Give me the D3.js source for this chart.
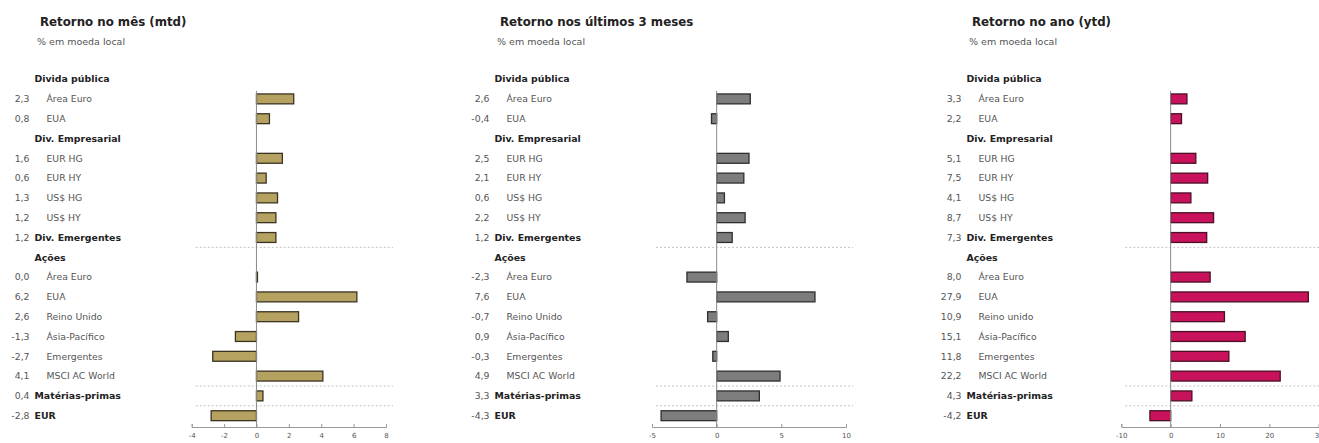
<!DOCTYPE html>
<html>
<head>
<meta charset="utf-8">
<script src="https://cdn.jsdelivr.net/npm/d3@7"></script>
<style>
  html, body { margin: 0; padding: 0; background: #fff; }
  svg { display: block; font-family: "DejaVu Sans", Verdana, sans-serif; }
</style>
</head>
<body>
<svg id="chart" width="1319" height="443"></svg>
<script>
// rows shared by the three panels (bold = group header)
var rowLabels = ['Divida pública', 'Área Euro', 'EUA', 'Div. Empresarial', 'EUR HG', 'EUR HY', 'US$ HG', 'US$ HY',
  'Div. Emergentes', 'Ações', 'Área Euro', 'EUA', 'Reino Unido', 'Ásia-Pacífico', 'Emergentes', 'MSCI AC World',
  'Matérias-primas', 'EUR'];
var rowBold = [1, 0, 0, 1, 0, 0, 0, 0, 1, 1, 0, 0, 0, 0, 0, 0, 1, 1];
var ytdLabels = rowLabels.slice();
ytdLabels[12] = 'Reino unido';

var mtdValues = [null, 2.3, 0.8, null, 1.6, 0.6, 1.3, 1.2, 1.2, null, 0.0, 6.2, 2.6, -1.3, -2.7, 4.1, 0.4, -2.8];
var m3Values  = [null, 2.6, -0.4, null, 2.5, 2.1, 0.6, 2.2, 1.2, null, -2.3, 7.6, -0.7, 0.9, -0.3, 4.9, 3.3, -4.3];
var ytdValues = [null, 3.3, 2.2, null, 5.1, 7.5, 4.1, 8.7, 7.3, null, 8.0, 27.9, 10.9, 15.1, 11.8, 22.2, 4.3, -4.2];

var mtdTicks = [-4, -2, 0, 2, 4, 6, 8];
var m3Ticks = [-5, 0, 5, 10];
var ytdTicks = [-10, 0, 10, 20, 30];

var separatorsAfter = [8, 15, 16];

var panels = [
  { title: 'Retorno no mês (mtd)', values: mtdValues, labels: rowLabels, ticks: mtdTicks,
    left: 0, range: [191.7, 386], fill: '#b5a160', stroke: '#3b3422' },
  { title: 'Retorno nos últimos 3 meses', values: m3Values, labels: rowLabels, ticks: m3Ticks,
    left: 460, range: [652, 846], fill: '#7d7d7d', stroke: '#2f2f2f' },
  { title: 'Retorno no ano (ytd)', values: ytdValues, labels: ytdLabels, ticks: ytdTicks,
    left: 932, range: [1121.3, 1318.7], fill: '#c8125c', stroke: '#4a1024' }
];

var svg = d3.select('#chart');

var y = d3.scaleBand()
  .domain(d3.range(rowLabels.length))
  .range([69.2, 425.6])
  .paddingInner(0.5)
  .paddingOuter(0.25);

var hyphen = function(s) { return s.replace('\u2212', '-'); };
var fmt = function(v) { return hyphen(d3.format('.1f')(v).replace('.', ',')); };

panels.forEach(function(p) {
  var g = svg.append('g');
  var vx = p.left + 29.5, hx = p.left + 34.5, ix = p.left + 46.5;
  var ticks = p.ticks;
  var x = d3.scaleLinear().domain([ticks[0], ticks[ticks.length - 1]]).range(p.range);
  var axisY = 427;

  // title
  g.append('text')
    .attr('x', p.left + 40).attr('y', 26)
    .attr('font-size', '11.8px').attr('font-weight', 'bold').attr('fill', '#222')
    .text(p.title);
  g.append('text')
    .attr('x', p.left + 37).attr('y', 44.5)
    .attr('font-size', '9.5px').attr('fill', '#555')
    .text('% em moeda local');

  // separators
  separatorsAfter.forEach(function(i) {
    var sy = (y(i) + y.bandwidth() + y(i + 1)) / 2;
    g.append('line')
      .attr('x1', p.range[0] + 4).attr('x2', p.range[1] + 7)
      .attr('y1', sy).attr('y2', sy)
      .attr('stroke', '#c4c4c4').attr('stroke-width', 1).attr('stroke-dasharray', '2,2');
  });

  // row labels + values
  p.labels.forEach(function(lbl, i) {
    var cy = y(i) + y.bandwidth() / 2 + 3.3;
    g.append('text')
      .attr('x', rowBold[i] ? hx : ix).attr('y', cy)
      .attr('font-size', rowBold[i] ? '9.4px' : '9.3px')
      .attr('font-weight', rowBold[i] ? 'bold' : 'normal')
      .attr('fill', rowBold[i] ? '#222' : '#555')
      .text(lbl);
    if (p.values[i] !== null) {
      g.append('text')
        .attr('x', vx).attr('y', cy)
        .attr('text-anchor', 'end')
        .attr('font-size', '9.3px').attr('fill', '#555')
        .text(fmt(p.values[i]));
    }
  });

  // bars
  var data = p.values.map(function(v, i) { return { v: v, i: i }; })
    .filter(function(d) { return d.v !== null; });
  g.selectAll('rect.bar').data(data).enter().append('rect')
    .attr('class', 'bar')
    .attr('x', function(d) { return x(Math.min(0, d.v)); })
    .attr('y', function(d) { return y(d.i); })
    .attr('width', function(d) { return Math.max(1, Math.abs(x(d.v) - x(0))); })
    .attr('height', y.bandwidth())
    .attr('fill', p.fill)
    .attr('stroke', p.stroke).attr('stroke-width', 1.3);

  // zero line
  g.append('line')
    .attr('x1', x(0)).attr('x2', x(0))
    .attr('y1', y(1) - 3).attr('y2', axisY)
    .attr('stroke', '#8a8a8a').attr('stroke-width', 1);

  // x axis
  var axis = g.append('g')
    .attr('transform', 'translate(0,' + axisY + ')')
    .call(d3.axisBottom(x).tickValues(ticks).tickSize(-3).tickPadding(6)
      .tickFormat(function(d) { return hyphen(d3.format('d')(d)); }));
  axis.select('.domain').attr('stroke', '#9a9a9a');
  axis.selectAll('.tick line').attr('stroke', '#9a9a9a');
  axis.selectAll('.tick text').attr('font-size', '7px').attr('fill', '#555')
    .attr('font-family', '"DejaVu Sans", sans-serif');
});
</script>
</body>
</html>
